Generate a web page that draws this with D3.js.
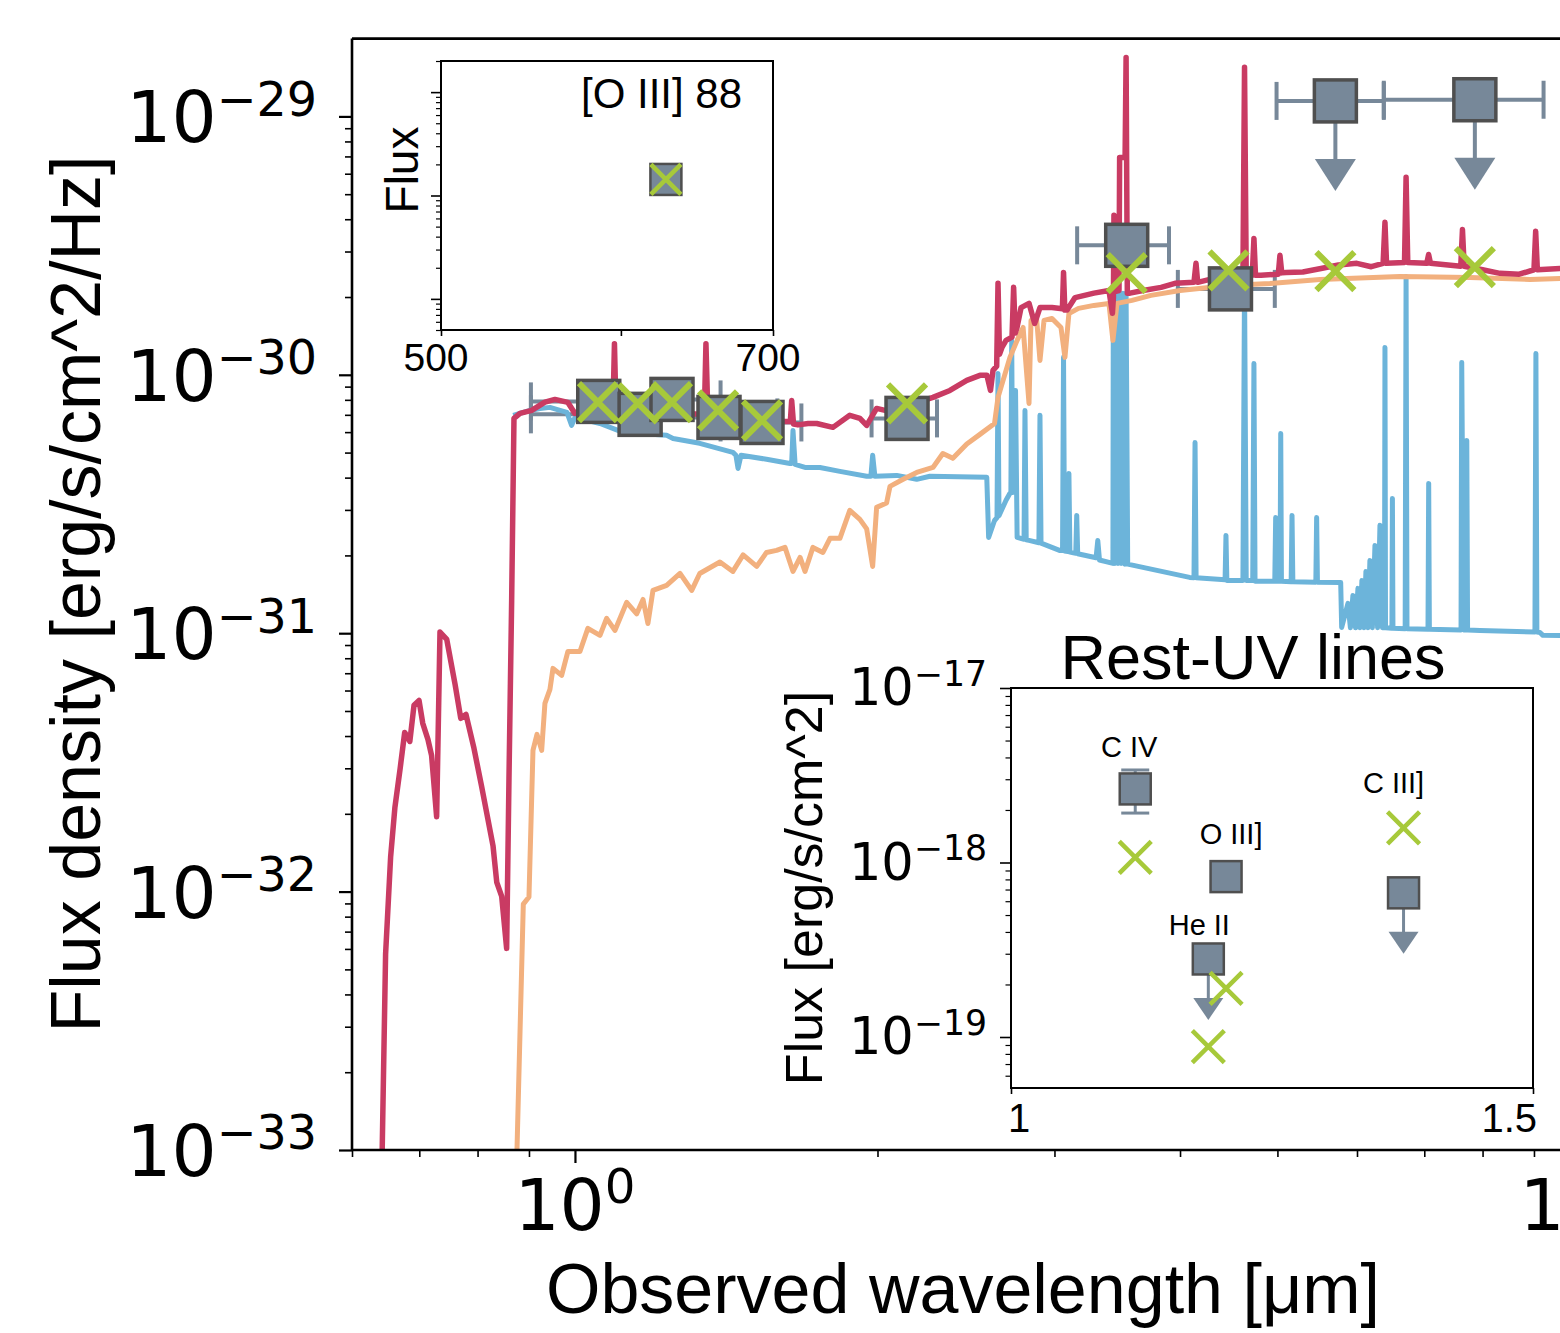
<!DOCTYPE html>
<html><head><meta charset="utf-8">
<script src="https://cdn.jsdelivr.net/npm/d3@7"></script>
<style>body{margin:0;background:#fff}svg{display:block}</style>
</head><body>
<svg id="c" width="1560" height="1333"></svg>
<script>
// ---------------- DATA ----------------
// Spectra: [observed wavelength (um), flux density (erg/s/cm^2/Hz)]
const totalSED = [
[0.641,5e-34],[0.648,5.73e-33],[0.6555,1.36e-32],[0.662,2.12e-32],[0.670,3.0e-32],[0.677,4.13e-32],
[0.685,3.81e-32],[0.6916,5.26e-32],[0.6996,5.49e-32],[0.7056,4.48e-32],[0.714,3.88e-32],[0.720,3.37e-32],
[0.7284,1.95e-32],[0.734,1.01e-31],[0.7455,9.46e-32],[0.7598,6.34e-32],[0.7698,4.68e-32],[0.779,4.85e-32],
[0.7935,3.58e-32],[0.8075,2.55e-32],[0.8289,1.50e-32],[0.836,1.085e-32],[0.8455,9.58e-33],[0.8551,6.03e-33],
[0.8597,2.74e-32],[0.865,1.34e-31],[0.8696,6.78e-31],
[0.8816,7.09e-31],[0.9056,7.28e-31],[0.9335,7.84e-31],[0.9552,8.03e-31],[0.984,7.82e-31],[1.000,7.09e-31],
[1.030,7.6e-31],[1.059,7.61e-31],[1.091,7.41e-31],[1.0947,1.32e-30],[1.0985,7.41e-31],[1.161,7.28e-31],
[1.243,7.15e-31],[1.331,7.03e-31],[1.345,7.0e-31],[1.350,1.32e-30],[1.356,6.97e-31],[1.459,6.78e-31],
[1.618,6.60e-31],[1.638,6.60e-31],[1.643,7.96e-31],[1.650,6.45e-31],[1.667,6.40e-31],[1.706,6.48e-31],
[1.740,6.48e-31],[1.806,6.26e-31],[1.877,6.97e-31],[1.921,6.78e-31],[1.951,6.37e-31],[1.996,7.41e-31],
[2.035,7.28e-31],[2.14,7.6e-31],[2.271,8.18e-31],[2.361,8.70e-31],[2.454,9.51e-31],[2.529,9.95e-31],
[2.570,9.95e-31],[2.591,8.70e-31],[2.606,1.04e-30],[2.628,1.08e-30],[2.636,2.26e-30],[2.645,1.2e-30],
[2.661,1.28e-30],[2.685,1.36e-30],[2.722,1.40e-30],[2.732,2.18e-30],[2.742,1.45e-30],[2.754,1.53e-30],
[2.779,1.82e-30],[2.830,1.89e-30],[2.867,1.58e-30],[2.902,1.82e-30],[2.983,1.82e-30],[3.055,1.80e-30],
[3.063,2.49e-30],[3.072,1.78e-30],[3.088,1.78e-30],[3.145,1.99e-30],[3.284,2.07e-30],[3.399,2.12e-30],
[3.426,1.73e-30],[3.434,2.0e-30],[3.438,4.14e-30],[3.445,2.1e-30],[3.478,2.12e-30],[3.483,6.94e-30],
[3.527,6.94e-30],[3.535,1.69e-29],[3.545,2.07e-30],[3.567,2.07e-30],[3.675,2.12e-30],[3.830,2.18e-30],
[3.954,2.26e-30],[4.13,2.28e-30],[4.149,2.70e-30],[4.165,2.28e-30],[4.323,2.36e-30],[4.484,2.40e-30],
[4.62,2.42e-30],[4.637,1.55e-29],[4.655,2.42e-30],[4.72,2.43e-30],[4.738,3.37e-30],[4.755,2.43e-30],
[4.815,2.43e-30],[5.01,2.45e-30],[5.029,2.90e-30],[5.05,2.48e-30],[5.099,2.49e-30],[5.3,2.50e-30],
[5.525,2.58e-30],[5.75,2.66e-30],[5.998,2.70e-30],[6.2,2.62e-30],[6.37,2.70e-30],[6.397,3.89e-30],
[6.42,2.70e-30],[6.69,2.72e-30],[6.714,5.81e-30],[6.74,2.72e-30],[7.04,2.70e-30],[7.07,2.92e-30],
[7.10,2.70e-30],[7.61,2.63e-30],[7.64,3.65e-30],[7.67,2.63e-30],[8.0,2.55e-30],[8.326,2.47e-30],
[8.7,2.45e-30],[9.00,2.55e-30],[9.035,3.59e-30],[9.07,2.55e-30],[9.552,2.58e-30],[11.5,2.60e-30]
];
const oldSED = [
[0.8716,5e-34],[0.8884,8.94e-33],[0.900,9.53e-33],[0.9083,3.52e-32],[0.9167,4.06e-32],[0.9266,3.52e-32],
[0.9335,5.35e-32],[0.9443,6.06e-32],[0.9509,7.31e-32],[0.970,6.87e-32],[0.984,8.50e-32],[1.0115,8.50e-32],
[1.030,1.044e-31],[1.059,9.81e-32],[1.0752,1.141e-31],[1.0959,1.025e-31],[1.1257,1.316e-31],[1.152,1.188e-31],
[1.1688,1.351e-31],[1.182,1.091e-31],[1.1957,1.464e-31],[1.2337,1.531e-31],[1.2721,1.703e-31],[1.3067,1.464e-31],
[1.331,1.703e-31],[1.394,1.886e-31],[1.436,1.734e-31],[1.470,2.009e-31],[1.5165,1.813e-31],[1.551,2.054e-31],
[1.587,2.091e-31],[1.618,2.148e-31],[1.648,1.734e-31],[1.675,1.965e-31],[1.694,1.734e-31],[1.725,2.148e-31],
[1.765,2.054e-31],[1.794,2.328e-31],[1.835,2.328e-31],[1.877,2.987e-31],[1.921,2.757e-31],[1.951,2.533e-31],
[1.978,1.813e-31],[1.996,3.068e-31],[2.042,3.19e-31],[2.058,3.70e-31],[2.121,3.94e-31],[2.188,4.19e-31],
[2.271,4.38e-31],[2.323,4.96e-31],[2.377,4.75e-31],[2.454,5.40e-31],[2.529,5.88e-31],[2.615,6.48e-31],
[2.636,8.18e-31],[2.709,1.168e-30],[2.754,1.359e-30],[2.792,1.525e-30],[2.830,7.75e-31],[2.843,1.623e-30],
[2.879,1.668e-30],[2.902,1.137e-30],[2.929,1.623e-30],[2.983,1.653e-30],[3.045,1.525e-30],[3.073,1.168e-30],
[3.101,1.728e-30],[3.170,1.807e-30],[3.284,1.856e-30],[3.399,1.889e-30],[3.430,1.359e-30],[3.462,1.889e-30],
[3.583,1.941e-30],[3.742,2.029e-30],[4.0,2.12e-30],[4.464,2.218e-30],[4.915,2.258e-30],[5.512,2.34e-30],
[6.62,2.403e-30],[7.772,2.382e-30],[8.917,2.34e-30],[9.552,2.361e-30],[11.5,2.36e-30]
];
const youngSED = [
[0.868,6.97e-31],[0.902,7.28e-31],[0.923,7.41e-31],[0.9443,7.48e-31],[0.9663,7.28e-31],[0.9818,7.15e-31],
[0.9924,6.37e-31],[1.000,6.84e-31],[1.059,6.48e-31],[1.1035,6.09e-31],[1.161,5.93e-31],[1.2337,5.83e-31],
[1.252,5.67e-31],[1.331,5.43e-31],[1.436,5.01e-31],[1.446,4.88e-31],[1.453,4.34e-31],[1.463,4.88e-31],
[1.551,4.71e-31],[1.637,4.54e-31],[1.643,4.54e-31],[1.648,6.09e-31],[1.656,4.50e-31],[1.694,4.38e-31],
[1.753,4.38e-31],[1.835,4.23e-31],[1.951,4.05e-31],[1.970,4.05e-31],[1.978,4.88e-31],[1.988,4.05e-31],
[2.090,4.08e-31],[2.188,3.94e-31],[2.255,4.05e-31],[2.569,4.01e-31],[2.580,2.348e-31],[2.615,2.73e-31],
[2.630,2.8e-31],[2.636,1.012e-30],[2.642,2.85e-31],[2.685,3.27e-31],[2.709,3.48e-31],[2.715,3.5e-31],
[2.720,1.359e-30],[2.726,3.5e-31],[2.744,8.70e-31],[2.754,2.348e-31],[2.798,2.31e-31],[2.804,7.28e-31],
[2.812,2.3e-31],[2.830,2.286e-31],[2.895,2.24e-31],[2.902,6.97e-31],[2.909,2.23e-31],[3.035,2.091e-31],
[3.056,2.09e-31],[3.063,1.168e-30],[3.070,2.08e-31],[3.094,2.07e-31],[3.101,4.15e-31],[3.108,2.06e-31],
[3.150,2.04e-31],[3.157,2.857e-31],[3.164,2.03e-31],[3.30,1.96e-31],[3.313,2.286e-31],[3.326,1.92e-31],
[3.430,1.863e-31],[3.433,2.07e-30],[3.445,1.86e-31],[3.458,2.07e-30],[3.47,1.86e-31],[3.483,2.07e-30],
[3.495,1.86e-31],[3.51,2.07e-30],[3.525,1.85e-31],[3.535,2.07e-30],[3.548,1.85e-31],[4.089,1.644e-31],
[4.13,1.64e-31],[4.140,5.47e-31],[4.150,1.64e-31],[4.435,1.61e-31],[4.444,2.39e-31],[4.453,1.60e-31],
[4.62,1.60e-31],[4.637,2.3e-30],[4.655,1.60e-31],[4.725,1.60e-31],[4.738,1.107e-30],[4.750,1.59e-31],
[4.97,1.59e-31],[4.98,2.806e-31],[4.99,1.59e-31],[5.03,1.59e-31],[5.038,5.93e-31],[5.046,1.59e-31],
[5.16,1.58e-31],[5.17,2.857e-31],[5.18,1.58e-31],[5.46,1.575e-31],[5.47,2.806e-31],[5.48,1.575e-31],
[5.78,1.572e-31],[5.793,1.053e-31],[5.877,1.304e-31],[5.91,1.05e-31],[5.944,1.40e-31],[5.98,1.05e-31],
[6.013,1.491e-31],[6.04,1.05e-31],[6.068,1.60e-31],[6.096,1.05e-31],[6.124,1.734e-31],[6.152,1.05e-31],
[6.18,1.912e-31],[6.215,1.05e-31],[6.252,2.187e-31],[6.29,1.05e-31],[6.324,2.614e-31],[6.36,1.05e-31],
[6.39,1.05e-31],[6.397,1.276e-30],[6.405,1.05e-31],[6.50,1.045e-31],[6.507,3.32e-31],[6.515,1.045e-31],
[6.70,1.04e-31],[6.714,2.4e-30],[6.728,1.04e-31],[7.06,1.035e-31],[7.071,3.80e-31],[7.082,1.035e-31],
[7.615,1.03e-31],[7.627,1.117e-30],[7.66,1.03e-31],[7.70,1.03e-31],[7.716,5.57e-31],[7.73,1.03e-31],
[7.953,1.025e-31],[9.02,1.01e-31],[9.04,1.21e-30],[9.06,1.01e-31],[9.124,1.007e-31],[9.187,9.81e-32],
[11.5,9.7e-32]
];
// Photometry (observed)
const photLambda = [1.056, 1.161, 1.249, 1.391, 1.535, 2.14, 3.54, 4.49, 5.71, 7.86];
const photFlux   = [7.89e-31, 7.03e-31, 8.03e-31, 6.84e-31, 6.54e-31, 6.78e-31, 3.17e-30, 2.15e-30, 1.148e-29, 1.16e-29];
const photLo     = [0.904, 0.904, 1.10, 1.19, 1.396, 1.973, 3.16, 3.98, 4.99, 6.38];
const photHi     = [1.208, 1.396, 1.396, 1.59, 1.68, 2.292, 3.90, 4.97, 6.38, 9.2];
const photUpper  = [false, false, false, false, false, false, false, false, true, true];
// Model photometry
const modelLambda = [1.054, 1.155, 1.249, 1.388, 1.535, 2.14, 3.54, 4.47, 5.71, 7.86];
const modelFlux   = [7.84e-31, 7.75e-31, 7.84e-31, 7.28e-31, 6.66e-31, 7.75e-31, 2.475e-30, 2.535e-30, 2.52e-30, 2.61e-30];
// Inset: [O III] 88
const oiiiLambda = [628];
const oiiiObs = [0.143];
const oiiiModel = [0.143];
// Inset: rest-UV lines
const uvNames  = ["C IV", "He II", "O III]", "C III]"];
const uvLambda = [1.119, 1.189, 1.206, 1.376];
const uvObs    = [2.64e-18, 2.8e-19, 8.3e-19, 6.7e-19];
const uvErrLo  = [1.92e-18, null, null, null];
const uvErrHi  = [3.39e-18, null, null, null];
const uvUpper  = [false, true, false, true];
const uvModel  = [1.07e-18, 8.8e-20, 1.9e-19, 1.58e-18];
// tick label texts
const xTickExp = {1: "0", 10: "1"};
const yTickExp = {"-33":"\u221233","-32":"\u221232","-31":"\u221231","-30":"\u221230","-29":"\u221229"};
const uvTickExp = {"-19":"\u221219","-18":"\u221218","-17":"\u221217"};

// ---------------- STYLE ----------------
const SANS = "'Liberation Sans', Arial, Helvetica, sans-serif";
const MATH = "'DejaVu Sans', sans-serif";
const C_RED = "#c93b63", C_ORANGE = "#f2b07e", C_BLUE = "#6cb4da";
const C_GRAY = "#778899", C_EDGE = "#4f4f4f", C_GREEN = "#a7c93a";

const svg = d3.select("#c");
svg.append("rect").attr("width",1560).attr("height",1333).attr("fill","#fff");

const X0 = 352, Y0 = 1150, DX = 1005, DY = 258.4;
const x = d3.scaleLog().domain([0.6, 11.5]).range([X0, X0 + DX*Math.log10(11.5/0.6)]);
const y = d3.scaleLog().domain([1e-33, 2e-29]).range([Y0, Y0 - DY*Math.log10(2e4)]);
const YT = y.range()[1], XR = x.range()[1];
const isMajor = t => Math.abs(Math.log10(t) - Math.round(Math.log10(t))) < 1e-6;

svg.append("defs").append("clipPath").attr("id","clipMain")
  .append("rect").attr("x",X0).attr("y",YT).attr("width",XR-X0).attr("height",Y0-YT);

// axes ticks
function styleAxis(g, w){ g.select(".domain").remove(); g.selectAll(".tick line").attr("stroke","#000").attr("stroke-width",w); }
const xt = x.ticks();
svg.append("g").attr("transform",`translate(0,${Y0})`)
  .call(d3.axisBottom(x).tickValues(xt.filter(t=>!isMajor(t))).tickSize(7).tickFormat(""))
  .call(g=>styleAxis(g,1.6));
svg.append("g").attr("transform",`translate(0,${Y0})`)
  .call(d3.axisBottom(x).tickValues(xt.filter(isMajor)).tickSize(13).tickFormat(""))
  .call(g=>styleAxis(g,2.2));
const yt = y.ticks();
svg.append("g").attr("transform",`translate(${X0},0)`)
  .call(d3.axisLeft(y).tickValues(yt.filter(t=>!isMajor(t))).tickSize(7).tickFormat(""))
  .call(g=>styleAxis(g,1.6));
svg.append("g").attr("transform",`translate(${X0},0)`)
  .call(d3.axisLeft(y).tickValues(yt.filter(isMajor)).tickSize(13).tickFormat(""))
  .call(g=>styleAxis(g,2.2));

function sci(g, px, py, exp, size, anchor, supScale){
  const t = g.append("text").attr("x",px).attr("y",py).attr("text-anchor",anchor)
    .attr("font-family",MATH).attr("font-size",size).attr("fill","#000");
  t.append("tspan").text("10");
  t.append("tspan").attr("dy",-0.375*size).attr("font-size",size*(supScale||0.7)).text(exp);
}
const labG = svg.append("g");
xt.filter(isMajor).forEach(t=>sci(labG, x(t), 1230, xTickExp[Math.round(t)], 71, "middle", 0.68));
yt.filter(isMajor).forEach(t=>sci(labG, 317, y(t)+26, yTickExp[String(Math.round(Math.log10(t)))], 71, "end", 0.67));

// axis labels
svg.append("text").attr("x",963).attr("y",1313).attr("text-anchor","middle")
  .attr("font-family",SANS).attr("font-size",70).text("Observed wavelength [\u03bcm]");
svg.append("text").attr("transform","translate(100,594) rotate(-90)").attr("text-anchor","middle")
  .attr("font-family",SANS).attr("font-size",70).text("Flux density [erg/s/cm^2/Hz]");

// error bars (under curves)
const eg = svg.append("g");
photLambda.forEach((l,i)=>{
  const cy = y(photFlux[i]);
  eg.append("line").attr("x1",x(photLo[i])).attr("x2",x(photHi[i])).attr("y1",cy).attr("y2",cy)
    .attr("stroke",C_GRAY).attr("stroke-width",4);
  [photLo[i], photHi[i]].forEach(v=>{
    eg.append("line").attr("x1",x(v)).attr("x2",x(v)).attr("y1",cy-19).attr("y2",cy+19)
      .attr("stroke",C_GRAY).attr("stroke-width",4);
  });
  if (photUpper[i]) {
    const cx = x(l);
    eg.append("line").attr("x1",cx).attr("x2",cx).attr("y1",cy).attr("y2",cy+60)
      .attr("stroke",C_GRAY).attr("stroke-width",4);
    eg.append("path").attr("d",`M${cx-20.5},${cy+58}L${cx+20.5},${cy+58}L${cx},${cy+90}Z`).attr("fill",C_GRAY);
  }
});

// curves
const line = d3.line().x(d=>x(d[0])).y(d=>y(d[1]));
const cg = svg.append("g").attr("clip-path","url(#clipMain)");
cg.append("path").datum(youngSED).attr("d",line).attr("fill","none").attr("stroke",C_BLUE)
  .attr("stroke-width",5).attr("stroke-linejoin","round");
cg.append("path").datum(oldSED).attr("d",line).attr("fill","none").attr("stroke",C_ORANGE)
  .attr("stroke-width",5).attr("stroke-linejoin","round");
cg.append("path").datum(totalSED).attr("d",line).attr("fill","none").attr("stroke",C_RED)
  .attr("stroke-width",5.5).attr("stroke-linejoin","round");

// squares and crosses
function square(g, cx, cy, s, sw){
  g.append("rect").attr("x",cx-s/2).attr("y",cy-s/2).attr("width",s).attr("height",s)
    .attr("fill",C_GRAY).attr("stroke",C_EDGE).attr("stroke-width",sw);
}
function cross(g, cx, cy, s, sw){
  const h = s/2;
  g.append("path").attr("d",`M${cx-h},${cy-h}L${cx+h},${cy+h}M${cx-h},${cy+h}L${cx+h},${cy-h}`)
    .attr("stroke",C_GREEN).attr("stroke-width",sw).attr("fill","none");
}
const mg = svg.append("g");
photLambda.forEach((l,i)=>square(mg, x(l), y(photFlux[i]), 42, 3.5));
modelLambda.forEach((l,i)=>cross(mg, x(l), y(modelFlux[i]), 38, 6));

// spines
svg.append("line").attr("x1",X0).attr("x2",X0).attr("y1",YT).attr("y2",Y0).attr("stroke","#000").attr("stroke-width",2.6);
svg.append("line").attr("x1",X0).attr("x2",XR).attr("y1",Y0).attr("y2",Y0).attr("stroke","#000").attr("stroke-width",2.6);
svg.append("line").attr("x1",X0).attr("x2",XR).attr("y1",YT).attr("y2",YT).attr("stroke","#000").attr("stroke-width",2.6);

// ---------------- INSET 1: [O III] 88 ----------------
const i1 = svg.append("g");
const ix1 = d3.scaleLog().domain([500,700]).range([441,773]);
const iy1 = d3.scaleLog().domain([0.005, 2]).range([330, 61]);
i1.append("rect").attr("x",441).attr("y",61).attr("width",332).attr("height",269).attr("fill","#fff");
i1.append("g").attr("transform","translate(0,330)")
  .call(d3.axisBottom(ix1).tickValues([500,600,700]).tickSize(6).tickFormat(""))
  .call(g=>styleAxis(g,1.6));
const iy1t = iy1.ticks();
i1.append("g").attr("transform","translate(441,0)")
  .call(d3.axisLeft(iy1).tickValues(iy1t.filter(t=>!isMajor(t))).tickSize(5).tickFormat(""))
  .call(g=>styleAxis(g,1.2));
i1.append("g").attr("transform","translate(441,0)")
  .call(d3.axisLeft(iy1).tickValues(iy1t.filter(isMajor)).tickSize(10).tickFormat(""))
  .call(g=>styleAxis(g,1.6));
[500,700].forEach(v=>i1.append("text").attr("x",ix1(v)-5).attr("y",371).attr("text-anchor","middle")
  .attr("font-family",SANS).attr("font-size",39).text(v));
i1.append("rect").attr("x",441).attr("y",61).attr("width",332).attr("height",269)
  .attr("fill","none").attr("stroke","#000").attr("stroke-width",2);
i1.append("text").attr("transform","translate(418,170) rotate(-90)").attr("text-anchor","middle")
  .attr("font-family",SANS).attr("font-size",46).text("Flux");
i1.append("text").attr("x",581).attr("y",108).attr("font-family",SANS).attr("font-size",42).text("[O III] 88");
oiiiLambda.forEach((l,i)=>{
  square(i1, ix1(l), iy1(oiiiObs[i]), 31, 2.5);
  cross(i1, ix1(l), iy1(oiiiModel[i]), 30, 4.5);
});

// ---------------- INSET 2: Rest-UV lines ----------------
const i2 = svg.append("g");
const ix2 = d3.scaleLinear().domain([1,1.5]).range([1011,1533]);
const iy2 = d3.scaleLog().domain([Math.pow(10,-17-400/174.5), 1e-17]).range([1088, 688]);
i2.append("rect").attr("x",1011).attr("y",688).attr("width",522).attr("height",400).attr("fill","#fff");
i2.append("g").attr("transform","translate(0,1088)")
  .call(d3.axisBottom(ix2).tickValues([1,1.5]).tickSize(6).tickFormat(""))
  .call(g=>styleAxis(g,1.6));
const iy2t = iy2.ticks();
i2.append("g").attr("transform","translate(1011,0)")
  .call(d3.axisLeft(iy2).tickValues(iy2t.filter(t=>!isMajor(t))).tickSize(5.5).tickFormat(""))
  .call(g=>styleAxis(g,1.2));
i2.append("g").attr("transform","translate(1011,0)")
  .call(d3.axisLeft(iy2).tickValues(iy2t.filter(isMajor)).tickSize(11).tickFormat(""))
  .call(g=>styleAxis(g,1.6));
i2.append("text").attr("x",ix2(1)-3).attr("y",1132).attr("text-anchor","start").attr("font-family",SANS).attr("font-size",40).text("1");
i2.append("text").attr("x",ix2(1.5)+4).attr("y",1132).attr("text-anchor","end").attr("font-family",SANS).attr("font-size",40).text("1.5");
iy2t.filter(isMajor).forEach(t=>sci(i2, 987, iy2(t)+17, uvTickExp[String(Math.round(Math.log10(t)))], 51, "end", 0.68));
i2.append("rect").attr("x",1011).attr("y",688).attr("width",522).attr("height",400)
  .attr("fill","none").attr("stroke","#000").attr("stroke-width",2);
i2.append("text").attr("transform","translate(822,888) rotate(-90)").attr("text-anchor","middle")
  .attr("font-family",SANS).attr("font-size",52).text("Flux [erg/s/cm^2]");
i2.append("text").attr("x",1253).attr("y",679).attr("text-anchor","middle")
  .attr("font-family",SANS).attr("font-size",63).text("Rest-UV lines");
// label offsets (px) relative to the upper marker of each line
const uvLabelDx = [-6, -9, 5, -10], uvLabelDy = [32, 24, 33, 35];
uvLambda.forEach((l,i)=>{
  const cx = ix2(l), cy = iy2(uvObs[i]);
  if (uvErrLo[i]) {
    const a = iy2(uvErrHi[i]), b = iy2(uvErrLo[i]);
    i2.append("line").attr("x1",cx).attr("x2",cx).attr("y1",a).attr("y2",b).attr("stroke",C_GRAY).attr("stroke-width",3);
    [a,b].forEach(v=>i2.append("line").attr("x1",cx-14).attr("x2",cx+14).attr("y1",v).attr("y2",v).attr("stroke",C_GRAY).attr("stroke-width",3));
  }
  if (uvUpper[i]) {
    i2.append("line").attr("x1",cx).attr("x2",cx).attr("y1",cy).attr("y2",cy+41).attr("stroke",C_GRAY).attr("stroke-width",3);
    i2.append("path").attr("d",`M${cx-15},${cy+39}L${cx+15},${cy+39}L${cx},${cy+61}Z`).attr("fill",C_GRAY);
  }
  square(i2, cx, cy, 31, 2.5);
  cross(i2, ix2(l), iy2(uvModel[i]), 32, 4.5);
  const top = Math.min(cy, iy2(uvModel[i]));
  i2.append("text").attr("x",cx+uvLabelDx[i]).attr("y",top-uvLabelDy[i]).attr("text-anchor","middle")
    .attr("font-family",SANS).attr("font-size",29).text(uvNames[i]);
});
</script>
</body></html>
